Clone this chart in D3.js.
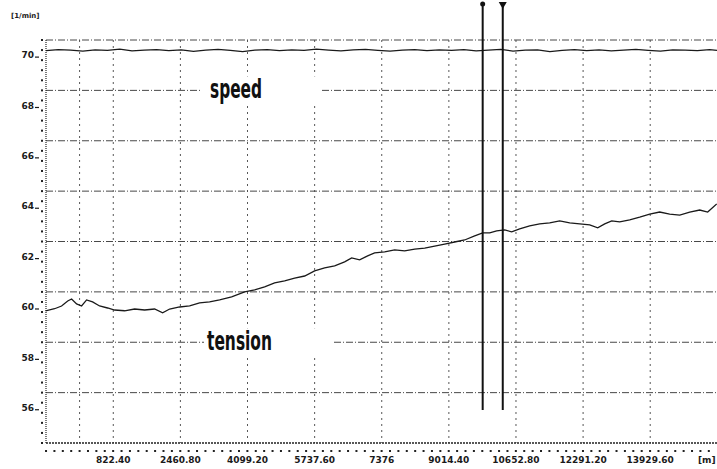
<!DOCTYPE html>
<html>
<head>
<meta charset="utf-8">
<script src="https://cdnjs.cloudflare.com/ajax/libs/d3/7.8.5/d3.min.js"></script>
<style>
  body { margin: 0; background: #fff; }
  svg { display: block; }
</style>
</head>
<body>
<div id="chart"></div>
<script>
// tick labels
const yTicks = [70, 68, 66, 64, 62, 60, 58, 56];
const xTicks = [822.4, 2460.8, 4099.2, 5737.6, 7376, 9014.4, 10652.8, 12291.2, 13929.6];
const xTickLabels = ["822.40", "2460.80", "4099.20", "5737.60", "7376", "9014.40", "10652.80", "12291.20", "13929.60"];

// speed trace (distance in m, value)
const speedDist = [-820, -520, -220, 80, 380, 680, 980, 1280, 1580, 1880, 2180, 2480, 2780, 3080,
  3380, 3680, 3980, 4280, 4580, 4880, 5180, 5480, 5780, 6080, 6380, 6680, 6980, 7280, 7580, 7880,
  8180, 8480, 8780, 9080, 9380, 9680, 9980, 10280, 10580, 10880, 11180, 11480, 11780, 12080, 12380,
  12680, 12980, 13280, 13580, 13880, 14180, 14480, 14780, 15080, 15380, 15560];
const speedVal = [70.18, 70.22, 70.20, 70.16, 70.21, 70.19, 70.24, 70.17, 70.20, 70.22, 70.18, 70.21,
  70.15, 70.20, 70.23, 70.19, 70.14, 70.20, 70.22, 70.18, 70.21, 70.19, 70.24, 70.20, 70.17, 70.21,
  70.23, 70.19, 70.16, 70.20, 70.22, 70.18, 70.21, 70.19, 70.22, 70.17, 70.20, 70.23, 70.16, 70.20,
  70.21, 70.14, 70.19, 70.22, 70.18, 70.21, 70.17, 70.20, 70.23, 70.19, 70.16, 70.21, 70.20, 70.18,
  70.22, 70.19];

// tension trace
const tensionDist = [-830, -610, -440, -290, -195, -73, 49, 171, 317, 488, 684, 855, 1099, 1343, 1587,
  1831, 2027, 2198, 2442, 2686, 2930, 3174, 3418, 3711, 4029, 4273, 4517, 4761, 5005, 5250, 5494,
  5738, 5982, 6226, 6470, 6641, 6837, 7032, 7203, 7447, 7691, 7935, 8180, 8424, 8668, 8912, 9156,
  9400, 9645, 9840, 10011, 10182, 10377, 10548, 10743, 10987, 11232, 11476, 11720, 11964, 12208,
  12453, 12648, 12819, 12990, 13185, 13429, 13673, 13917, 14161, 14405, 14650, 14894, 15138, 15333, 15553];
const tensionVal = [59.85, 59.93, 60.04, 60.24, 60.32, 60.12, 60.04, 60.28, 60.20, 60.04, 59.96, 59.88,
  59.85, 59.92, 59.88, 59.92, 59.77, 59.92, 60.00, 60.04, 60.16, 60.20, 60.28, 60.40, 60.60, 60.68,
  60.80, 60.96, 61.04, 61.15, 61.23, 61.43, 61.55, 61.63, 61.79, 61.95, 61.87, 62.03, 62.15, 62.19,
  62.27, 62.23, 62.30, 62.34, 62.42, 62.50, 62.58, 62.66, 62.82, 62.94, 62.94, 63.02, 63.06, 62.98,
  63.10, 63.22, 63.30, 63.34, 63.42, 63.34, 63.30, 63.26, 63.14, 63.30, 63.42, 63.38, 63.46, 63.57,
  63.69, 63.77, 63.69, 63.65, 63.77, 63.85, 63.77, 64.09];

// cursor positions (m)
const cursors = [9840, 10330];

const W = 717, H = 469;
const plotL = 46, plotR = 717, plotT = 40, plotB = 443;

const svg = d3.select("#chart").append("svg")
  .attr("width", W).attr("height", H)
  .style("font-family", "'DejaVu Sans', sans-serif");

const x = d3.scaleLinear().domain([-820, 15560]).range([plotL, plotR]);
// labels sit 0.6 below each grid row
const y = d3.scaleLinear().domain([54.6, 70.6]).range([plotB, plotT]);
const gridRows = yTicks.map(function(t) { return t + 0.6; });

const ink = "#1a1a1a";

// horizontal grid rows
svg.selectAll(".hgrid")
  .data(gridRows)
  .enter().append("line")
  .attr("class", "hgrid")
  .attr("x1", plotL).attr("x2", plotR)
  .attr("y1", d => y(d)).attr("y2", d => y(d))
  .attr("stroke", "#333").attr("stroke-width", 0.9)
  .attr("stroke-dasharray", "7,2,1,2");

// vertical grid columns (plus the zero line)
svg.selectAll(".vgrid")
  .data([0].concat(xTicks))
  .enter().append("line")
  .attr("class", "vgrid")
  .attr("x1", d => x(d)).attr("x2", d => x(d))
  .attr("y1", plotT).attr("y2", plotB)
  .attr("stroke", "#444").attr("stroke-width", 0.9)
  .attr("stroke-dasharray", "2,4");

// left and bottom axis lines
svg.append("line")
  .attr("x1", plotL).attr("x2", plotL).attr("y1", plotT).attr("y2", plotB)
  .attr("stroke", "#222").attr("stroke-width", 1.2).attr("stroke-dasharray", "1,1");
svg.append("line")
  .attr("x1", plotL).attr("x2", plotR).attr("y1", plotB).attr("y2", plotB)
  .attr("stroke", "#222").attr("stroke-width", 1.6).attr("stroke-dasharray", "2,1");

// minor tick dots on y
svg.selectAll(".ydot")
  .data(d3.range(54.6, 70.61, 0.4))
  .enter().append("rect")
  .attr("class", "ydot")
  .attr("x", 41).attr("y", d => y(d) - 1)
  .attr("width", 2).attr("height", 2)
  .attr("fill", "#222");

// minor tick dots on x
svg.selectAll(".xdot")
  .data(d3.range(-819.2, 15560, 204.8))
  .enter().append("rect")
  .attr("class", "xdot")
  .attr("x", d => x(d) - 1).attr("y", 450)
  .attr("width", 2).attr("height", 2)
  .attr("fill", "#222");

// y labels
const yl = svg.selectAll(".ylab")
  .data(yTicks)
  .enter().append("g")
  .attr("class", "ylab")
  .attr("transform", d => `translate(0,${y(d)})`);
yl.append("text")
  .attr("x", 34).attr("dy", "0.35em")
  .attr("text-anchor", "end")
  .attr("font-size", 9).attr("font-weight", "bold")
  .attr("fill", ink)
  .text(d => d);
yl.append("line")
  .attr("x1", 35).attr("x2", 39).attr("y1", 2).attr("y2", 2)
  .attr("stroke", ink).attr("stroke-width", 1.2);

// x labels
svg.selectAll(".xlab")
  .data(xTicks)
  .enter().append("text")
  .attr("class", "xlab")
  .attr("x", d => x(d)).attr("y", 463)
  .attr("text-anchor", "middle")
  .attr("font-size", 9).attr("font-weight", "bold")
  .attr("fill", ink)
  .text((d, i) => xTickLabels[i]);

svg.append("text")
  .attr("x", 698).attr("y", 463)
  .attr("font-size", 9).attr("font-weight", "bold").attr("fill", ink)
  .text("[m]");

svg.append("text")
  .attr("x", 11).attr("y", 18)
  .attr("font-size", 7).attr("font-weight", "bold").attr("fill", ink)
  .text("[1/min]");

// traces
const line = d3.line()
  .x(d => x(d[0]))
  .y(d => y(d[1]));

svg.append("path")
  .datum(d3.zip(speedDist, speedVal))
  .attr("d", line)
  .attr("fill", "none").attr("stroke", ink).attr("stroke-width", 1.3);

svg.append("path")
  .datum(d3.zip(tensionDist, tensionVal))
  .attr("d", line)
  .attr("fill", "none").attr("stroke", ink).attr("stroke-width", 1.3);

// trace names with white box over the grid row
const names = [
  { name: "speed", row: 68.6, x0: 200, x1: 322, tx: 210, tl: 52 },
  { name: "tension", row: 58.6, x0: 204, x1: 334, tx: 207, tl: 65 }
];
names.forEach(function(n) {
  svg.append("rect")
    .attr("x", n.x0).attr("y", y(n.row) - 14)
    .attr("width", n.x1 - n.x0).attr("height", 28)
    .attr("fill", "#fff");
  svg.append("text")
    .attr("x", n.tx).attr("y", y(n.row) + 8)
    .attr("font-family", "'DejaVu Sans Condensed', 'DejaVu Sans', sans-serif")
    .attr("font-size", 26).attr("font-weight", "bold")
    .attr("textLength", n.tl).attr("lengthAdjust", "spacingAndGlyphs")
    .attr("fill", "#111")
    .text(n.name);
});

// cursors
svg.selectAll(".cursor")
  .data(cursors)
  .enter().append("line")
  .attr("class", "cursor")
  .attr("x1", d => x(d)).attr("x2", d => x(d))
  .attr("y1", 4).attr("y2", 410)
  .attr("stroke", "#111").attr("stroke-width", 2);

svg.append("circle")
  .attr("cx", x(cursors[0])).attr("cy", 4).attr("r", 2.5)
  .attr("fill", "#111");
svg.append("path")
  .attr("d", `M${x(cursors[1]) - 4},2 L${x(cursors[1]) + 4},2 L${x(cursors[1])},9 Z`)
  .attr("fill", "#111");
</script>
</body>
</html>
